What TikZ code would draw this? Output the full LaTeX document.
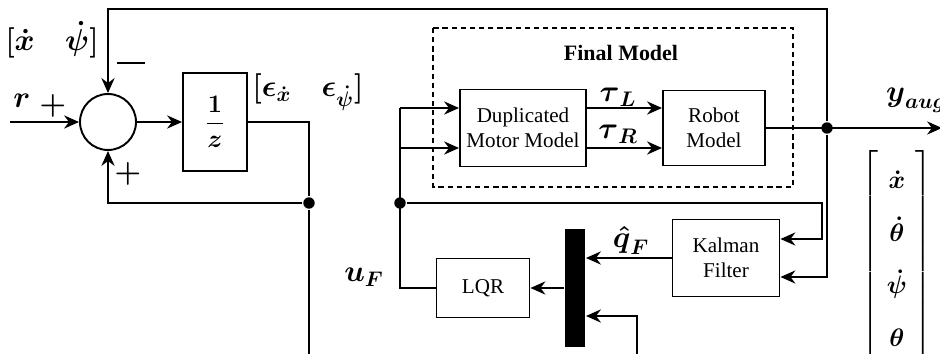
\documentclass[tikz,border=0pt]{standalone}
\usepackage{fontspec}
\setmainfont{Liberation Serif}
\usepackage{amsmath}
\usetikzlibrary{arrows.meta}
\newcommand{\bs}[1]{\boldsymbol{#1}}
\begin{document}
\begin{tikzpicture}[x=0.02cm, y=-0.02cm, line width=1.1pt,
  >={Stealth[length=8.5pt,width=7.5pt]},
  blk/.style={draw, rectangle, align=center, inner sep=0pt, font=\fontsize{12}{14.5}\selectfont},
  lbl/.style={font=\LARGE},
  jdot/.style={circle, fill, inner sep=0pt, minimum size=6.5pt}]
\useasboundingbox (0,0) rectangle (940,354);
\clip (0,0) rectangle (940,354);
\def\dy{0.4cm}
\def\ky{0.38cm}
\node[draw, circle, minimum size=1.12cm] (sum) at (108,122) {};
\node[blk, minimum width=1.28cm, minimum height=1.96cm] (delay) at (215,122) {\Large$\displaystyle\frac{\bs{1}}{\bs{z}}$};
\node[blk, minimum width=2.52cm, minimum height=1.54cm] (dup) at (523,128) {Duplicated\\Motor Model};
\node[blk, minimum width=2.04cm, minimum height=1.5cm] (robot) at (714,128) {Robot\\Model};
\node[blk, minimum width=2.14cm, minimum height=1.54cm] (kf) at (726,258) {Kalman\\Filter};
\node[blk, minimum width=1.86cm, minimum height=1.18cm] (lqr) at (483,288) {LQR};
\node[fill, inner sep=0pt, minimum width=0.4cm, minimum height=2.36cm] (mux) at (575,288) {};
\draw[line width=1pt, dash pattern=on 3pt off 2.2pt] (433,28) rectangle (793,187);
\node[font=\fontsize{12.5}{15}\selectfont\bfseries] (title) at (621,53) {Final Model};

\node[jdot] (j1) at (309,203) {};
\node[jdot] (j2) at (400,203) {};
\node[jdot] (j3) at (827,128) {};
\coordinate (rin) at (10,122);
\coordinate (top) at (827,9);
\coordinate (yout) at (942,128);
\coordinate (bot1) at (309,358);
\coordinate (bot2) at (637,358);
\coordinate (split) at (400,108);
\coordinate (split2) at (400,148);
\coordinate (kfin) at (822,203);

\draw[->] (rin) -- (sum);
\draw[->] (sum) -- (delay);
\draw (delay.east) -| (j1) -- (bot1);
\draw[->] (j1) -| (sum.south);
\draw[->] (j3) -- (top) -| (sum.north);
\draw[->] (robot) -- (yout);
\draw[->] ([yshift=\dy]dup.east) -- ([yshift=\dy]robot.west);
\draw[->] ([yshift=-\dy]dup.east) -- ([yshift=-\dy]robot.west);
\draw[->] (split) -- ([yshift=\dy]dup.west);
\draw[->] (split2) -- ([yshift=-\dy]dup.west);
\draw (split) |- (lqr.west);
\draw[->] (j2) -- (kfin) |- ([yshift=\ky]kf.east);
\draw[->] (j3) |- ([yshift=-\ky]kf.east);
\draw[->] (kf.west) -- (kf.west -| mux.east);
\draw[->] (mux.west |- lqr) -- (lqr.east);
\draw[->] (bot2) |- ([yshift=-0.56cm]mux.east);

\node[lbl] (rlab) at (22,101) {$\bs{r}$};
\node[lbl] (pa) at (53,106) {$\bs{+}$};
\node[lbl] (pb) at (128,174) {$\bs{+}$};
\node (mn) at (131,63) {\rule{0.55cm}{1.5pt}};
\node[lbl] (xpsi) at (52,40) {$\bs{[\dot{x}\quad\dot{\psi}]}$};
\node[lbl] (eps) at (308,92) {$\bs{[}\bs{\epsilon}_{\bs{\dot{x}}}\quad\bs{\epsilon}_{\bs{\dot{\psi}}}\bs{]}$};
\node[lbl] (tl) at (618,97) {$\bs{\tau}_{\bs{L}}$};
\node[lbl] (tr) at (618,134) {$\bs{\tau}_{\bs{R}}$};
\node[lbl] (ya) at (916,100) {$\bs{y}_{\bs{aug}}$};
\node[lbl] (uf) at (364,277) {$\bs{u}_{\bs{F}}$};
\node[lbl] (qf) at (631,240) {$\bs{\hat{q}}_{\bs{F}}$};
\node[font=\Large] (vec) at (897,257) {\renewcommand{\arraystretch}{1.67}$\left[\begin{array}{c}\bs{\dot{x}}\\ \bs{\dot{\theta}}\\ \bs{\dot{\psi}}\\ \bs{\theta}\end{array}\right]$};
\end{tikzpicture}
\end{document}
